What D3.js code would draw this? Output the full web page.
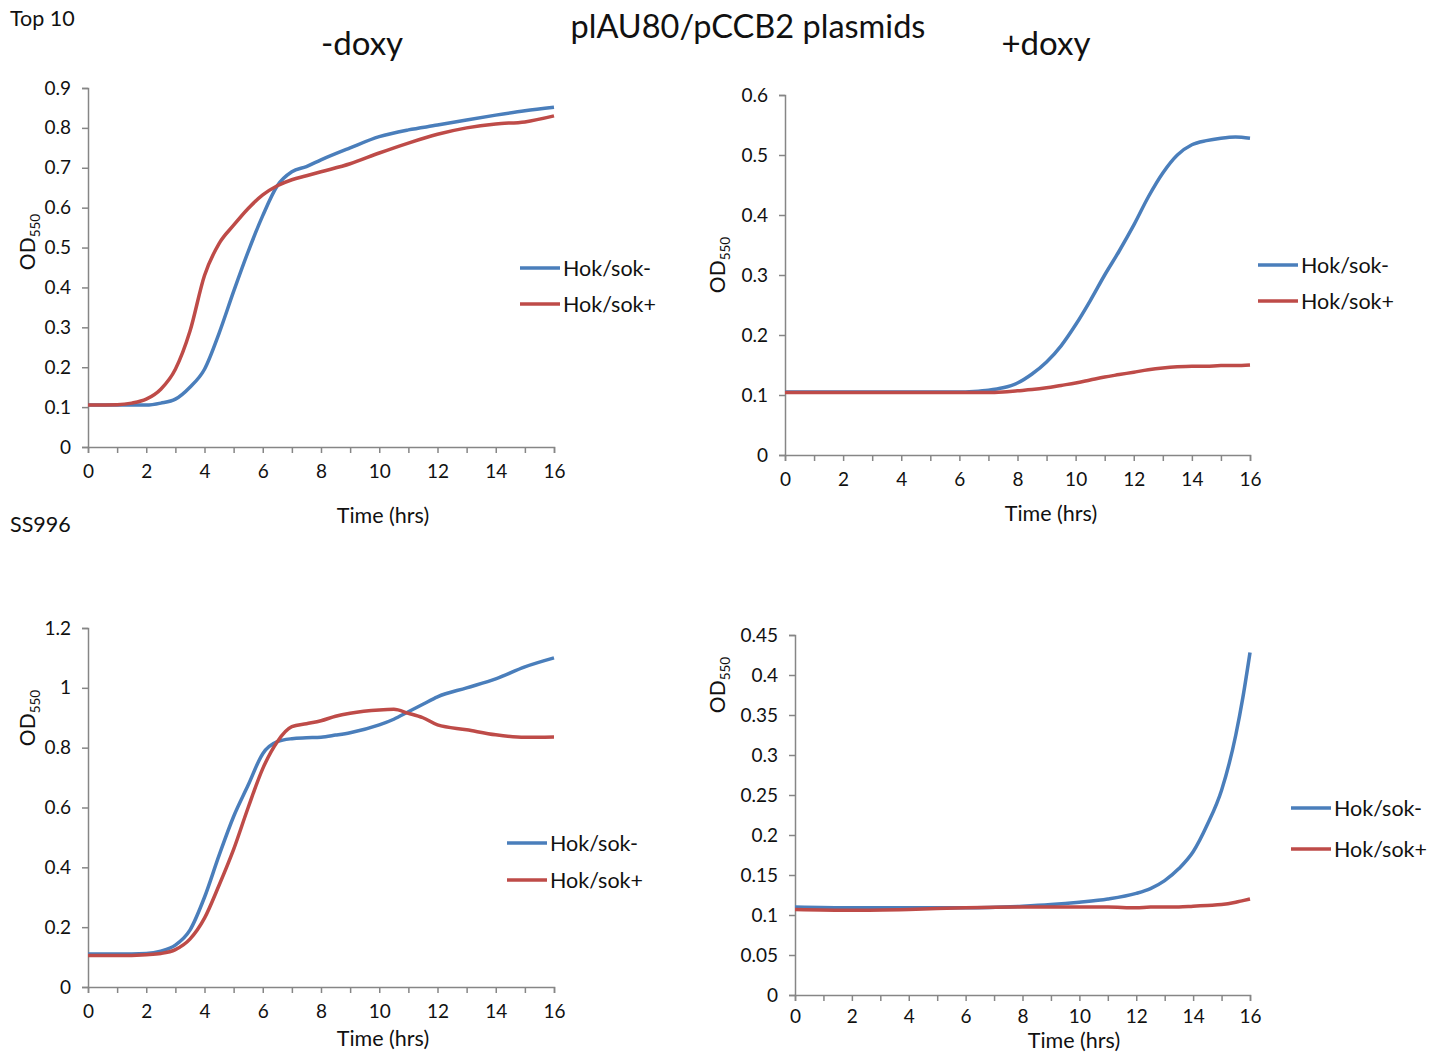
<!DOCTYPE html>
<html>
<head>
<meta charset="utf-8">
<script src="https://cdn.jsdelivr.net/npm/d3@7"></script>
<style>
  html, body { margin: 0; padding: 0; background: #fff; }
  svg { display: block; font-family: Lato, "Open Sans", sans-serif; }
</style>
</head>
<body>
<svg id="chart" width="1441" height="1053"></svg>
<script>
// Growth curves (OD550) of two strains carrying plAU80/pCCB2 plasmids,
// with and without doxycycline.

const seriesNames = ["Hok/sok-", "Hok/sok+"];
const seriesColors = ["#4A7EBB", "#BE4B48"];
const xTicks = [0, 2, 4, 6, 8, 10, 12, 14, 16];

// Top 10, -doxy
const top10MinusTime = [0, 1, 1.5, 2, 2.5, 3, 3.5, 4, 4.5, 5, 5.5, 6, 6.5, 7, 7.5, 8, 9, 10, 11, 12, 13, 14, 15, 16];
const top10MinusSokNeg = [0.105, 0.105, 0.105, 0.105, 0.11, 0.12, 0.15, 0.195, 0.285, 0.39, 0.49, 0.58, 0.655, 0.69, 0.703, 0.72, 0.75, 0.778, 0.795, 0.807, 0.82, 0.832, 0.843, 0.852];
const top10MinusSokPos = [0.105, 0.106, 0.11, 0.12, 0.145, 0.195, 0.29, 0.43, 0.51, 0.556, 0.598, 0.632, 0.655, 0.67, 0.68, 0.69, 0.71, 0.737, 0.762, 0.784, 0.8, 0.81, 0.815, 0.83];
const top10MinusYTicks = [0, 0.1, 0.2, 0.3, 0.4, 0.5, 0.6, 0.7, 0.8, 0.9];

// Top 10, +doxy
const top10PlusTime = [0, 2, 4, 6, 6.5, 7, 7.5, 8, 8.5, 9, 9.5, 10, 10.5, 11, 11.5, 12, 12.5, 13, 13.5, 14, 14.5, 15, 15.5, 16];
const top10PlusSokNeg = [0.105, 0.105, 0.105, 0.105, 0.106, 0.108, 0.112, 0.12, 0.135, 0.155, 0.182, 0.217, 0.257, 0.3, 0.34, 0.383, 0.43, 0.47, 0.5, 0.517, 0.524, 0.528, 0.53, 0.528];
const top10PlusSokPos = [0.104, 0.104, 0.104, 0.104, 0.104, 0.104, 0.105, 0.107, 0.109, 0.112, 0.116, 0.12, 0.125, 0.13, 0.134, 0.138, 0.142, 0.145, 0.147, 0.148, 0.148, 0.149, 0.149, 0.15];
const top10PlusYTicks = [0, 0.1, 0.2, 0.3, 0.4, 0.5, 0.6];

// SS996, -doxy
const ss996MinusTime = [0, 1, 2, 2.5, 3, 3.5, 4, 4.5, 5, 5.5, 6, 6.5, 7, 7.5, 8, 8.5, 9, 10, 10.5, 11, 11.5, 12, 13, 14, 15, 16];
const ss996MinusSokNeg = [0.11, 0.11, 0.112, 0.12, 0.14, 0.19, 0.3, 0.44, 0.57, 0.675, 0.78, 0.82, 0.83, 0.833, 0.835, 0.842, 0.85, 0.876, 0.895, 0.92, 0.945, 0.97, 1.0, 1.03, 1.07, 1.1];
const ss996MinusSokPos = [0.105, 0.105, 0.108, 0.112, 0.125, 0.16, 0.23, 0.34, 0.46, 0.6, 0.73, 0.82, 0.87, 0.88, 0.89, 0.905, 0.915, 0.926, 0.928, 0.915, 0.9, 0.876, 0.86, 0.843, 0.835, 0.836];
const ss996MinusYTicks = [0, 0.2, 0.4, 0.6, 0.8, 1, 1.2];

// SS996, +doxy
const ss996PlusTime = [0, 2, 4, 6, 8, 9, 10, 11, 12, 12.5, 13, 13.5, 14, 14.5, 15, 15.5, 15.75, 16];
const ss996PlusSokNeg = [0.11, 0.109, 0.109, 0.109, 0.111, 0.113, 0.116, 0.12, 0.127, 0.133, 0.143, 0.158, 0.179, 0.213, 0.256, 0.325, 0.372, 0.428];
const ss996PlusSokPos = [0.107, 0.106, 0.107, 0.109, 0.11, 0.11, 0.11, 0.11, 0.109, 0.11, 0.11, 0.11, 0.111, 0.112, 0.113, 0.116, 0.118, 0.12];
const ss996PlusYTicks = [0, 0.05, 0.1, 0.15, 0.2, 0.25, 0.3, 0.35, 0.4, 0.45];

const panels = [
  { time: top10MinusTime, series: [top10MinusSokNeg, top10MinusSokPos], yTicks: top10MinusYTicks,
    left: 88, right: 554, top: 88, bottom: 447, tickDy: "1.15em",
    yLabel: [28, 242], xLabelY: 523, xLabelX: 383, legend: [520, 268, 36] },
  { time: top10PlusTime, series: [top10PlusSokNeg, top10PlusSokPos], yTicks: top10PlusYTicks,
    left: 785, right: 1250, top: 95, bottom: 455, tickDy: "1.15em",
    yLabel: [718, 265], xLabelY: 521, xLabelX: 1051, legend: [1258, 265, 36] },
  { time: ss996MinusTime, series: [ss996MinusSokNeg, ss996MinusSokPos], yTicks: ss996MinusYTicks,
    left: 88, right: 554, top: 628, bottom: 987, tickDy: "1.15em",
    yLabel: [28, 718], xLabelY: 1046, xLabelX: 383, legend: [507, 843, 37] },
  { time: ss996PlusTime, series: [ss996PlusSokNeg, ss996PlusSokPos], yTicks: ss996PlusYTicks,
    left: 795, right: 1250, top: 635, bottom: 995, tickDy: "1.0em",
    yLabel: [718, 685], xLabelY: 1047.5, xLabelX: 1074, legend: [1291, 808, 41] }
];

const svg = d3.select("#chart");
const axisColor = "#868686";
const tickFont = 19;

panels.forEach(p => {
  const yMax = p.yTicks[p.yTicks.length - 1];
  const x = d3.scaleLinear().domain([0, 16]).range([p.left, p.right]);
  const y = d3.scaleLinear().domain([0, yMax]).range([p.bottom, p.top]);
  const g = svg.append("g");

  // x axis: minor tick every hour, label every 2 hours
  const xAxis = d3.axisBottom(x).tickValues(d3.range(0, 17, 1)).tickSize(6)
    .tickFormat(d => xTicks.includes(d) ? d : "");
  const gx = g.append("g").attr("transform", `translate(0,${p.bottom})`).call(xAxis);
  gx.select(".domain").attr("stroke", axisColor).attr("stroke-width", 1.5);
  gx.selectAll(".tick line").attr("stroke", axisColor).attr("stroke-width", 1.5);
  gx.selectAll(".tick text").attr("font-size", tickFont).attr("fill", "#111")
    .attr("font-family", "Lato, sans-serif").attr("dy", p.tickDy);

  const yAxis = d3.axisLeft(y).tickValues(p.yTicks).tickSize(6).tickFormat(d => String(d));
  const gy = g.append("g").attr("transform", `translate(${p.left},0)`).call(yAxis);
  gy.select(".domain").attr("stroke", axisColor).attr("stroke-width", 1.5);
  gy.selectAll(".tick line").attr("stroke", axisColor).attr("stroke-width", 1.5);
  gy.selectAll(".tick text").attr("font-size", tickFont).attr("fill", "#111")
    .attr("font-family", "Lato, sans-serif").attr("x", -17);

  // growth curves
  const line = d3.line().curve(d3.curveMonotoneX)
    .x((d, i) => x(p.time[i])).y(d => y(d));
  p.series.forEach((s, k) => {
    g.append("path").datum(s).attr("d", line)
      .attr("fill", "none").attr("stroke", seriesColors[k])
      .attr("stroke-width", 3.5).attr("stroke-linejoin", "round");
  });

  // axis titles
  g.append("text").attr("x", p.xLabelX).attr("y", p.xLabelY)
    .attr("text-anchor", "middle").attr("font-size", 21.5).attr("fill", "#111")
    .text("Time (hrs)");
  const yl = g.append("text")
    .attr("transform", `translate(${p.yLabel[0] + 7},${p.yLabel[1]}) rotate(-90)`)
    .attr("text-anchor", "middle").attr("font-size", 21).attr("fill", "#111");
  yl.append("tspan").text("OD");
  yl.append("tspan").attr("font-size", 13.5).attr("dy", 5).text("550");

  // legend
  const [lx, ly, gap] = p.legend;
  seriesNames.forEach((name, k) => {
    const yy = ly + k * gap;
    g.append("line").attr("x1", lx).attr("x2", lx + 40).attr("y1", yy).attr("y2", yy)
      .attr("stroke", seriesColors[k]).attr("stroke-width", 3.5);
    g.append("text").attr("x", lx + 43).attr("y", yy).attr("dy", "0.36em")
      .attr("font-size", 21.5).attr("fill", "#111").text(name);
  });
});

// titles
svg.append("text").attr("x", 748).attr("y", 38).attr("text-anchor", "middle")
  .attr("font-size", 32.5).attr("fill", "#111").text("plAU80/pCCB2 plasmids");
svg.append("text").attr("x", 362).attr("y", 55).attr("text-anchor", "middle")
  .attr("font-size", 33).attr("fill", "#111").text("-doxy");
svg.append("text").attr("x", 1046).attr("y", 55).attr("text-anchor", "middle")
  .attr("font-size", 33).attr("fill", "#111").text("+doxy");
svg.append("text").attr("x", 10).attr("y", 26).attr("font-size", 21.5)
  .attr("fill", "#111").text("Top 10");
svg.append("text").attr("x", 10).attr("y", 532).attr("font-size", 21.5)
  .attr("fill", "#111").text("SS996");
</script>
</body>
</html>
